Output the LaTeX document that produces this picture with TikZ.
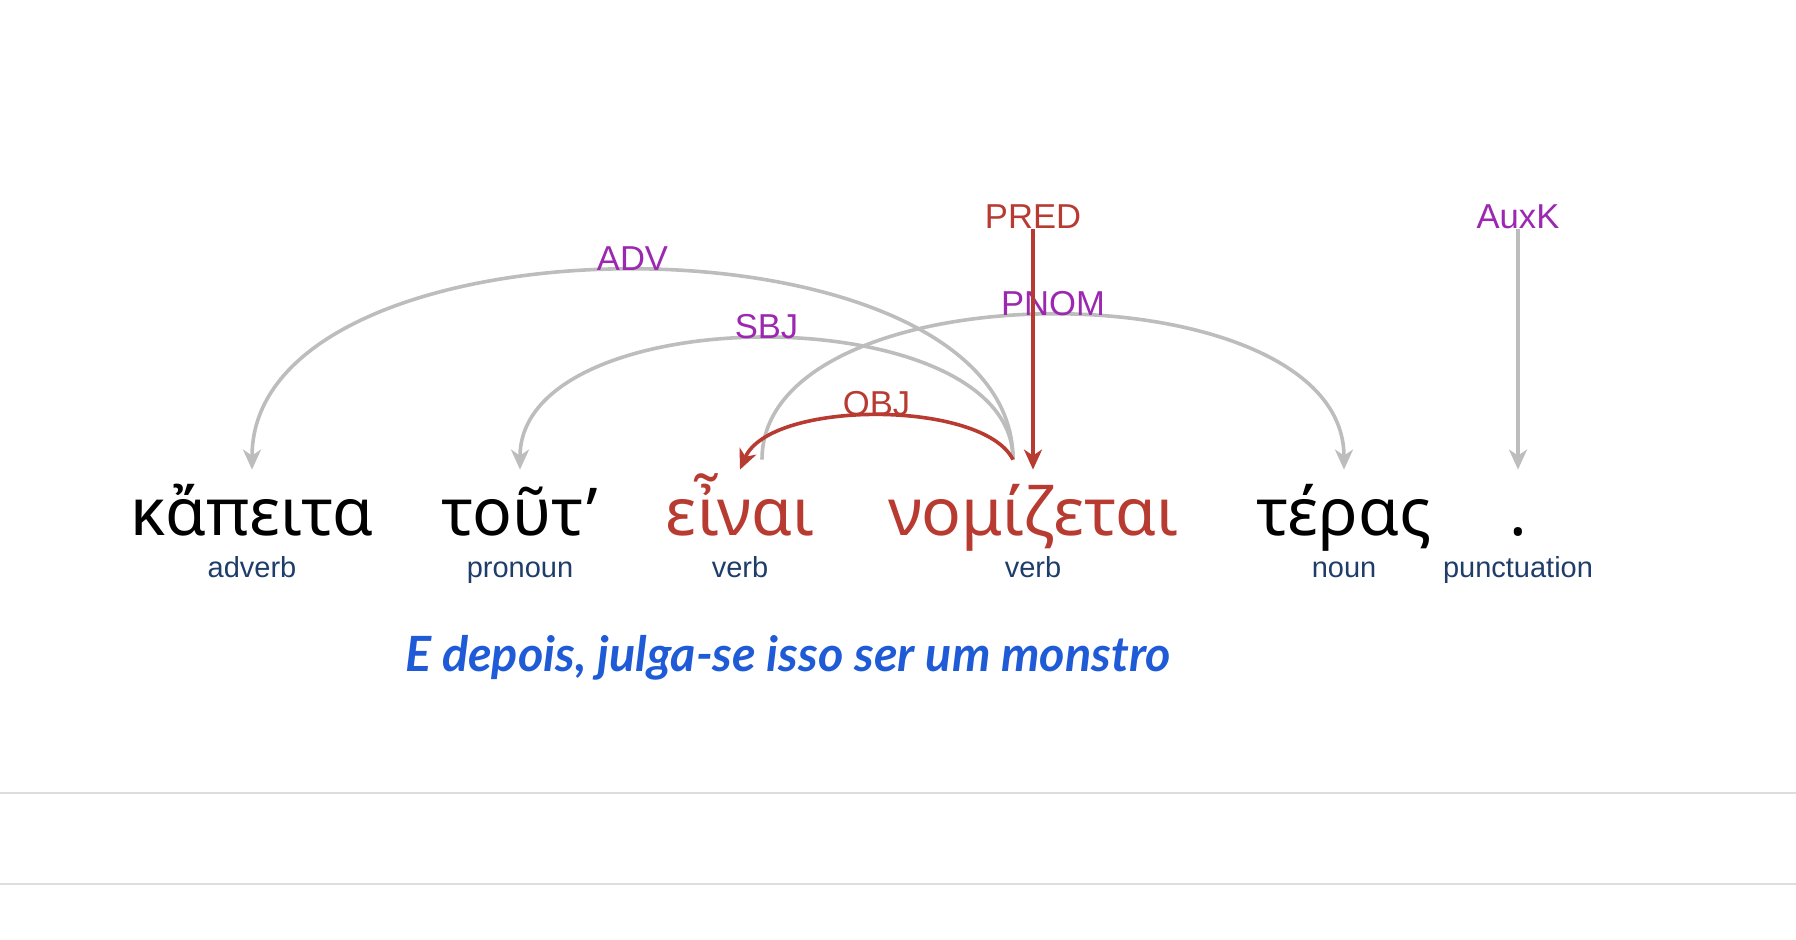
\documentclass[tikz,border=0pt]{standalone}
\usepackage{fontspec}
\setmainfont{Noto Sans}
\newfontfamily\greekfont{Noto Sans}
\newfontfamily\labelfont{Liberation Sans}
\newfontfamily\transfont{Lato}
\usetikzlibrary{arrows.meta}

\definecolor{arcgray}{HTML}{BDBDBD}
\definecolor{depred}{HTML}{B83B32}
\definecolor{relpurple}{HTML}{9C27B0}
\definecolor{posblue}{HTML}{1F3D6B}
\definecolor{transblue}{HTML}{1F5BD6}
\definecolor{rulegray}{HTML}{DDDDDD}

\begin{document}
\begin{tikzpicture}[x=0.5pt, y=-0.5pt,
  word/.style={font=\greekfont\fontsize{33}{36}\selectfont, anchor=base,
    inner sep=0pt, text height=33pt},
  hotword/.style={word, text=depred},
  tag/.style={font=\labelfont\fontsize{14.5}{17}\selectfont, text=posblue,
    anchor=base, inner sep=0pt},
  lbl/.style={font=\labelfont\fontsize{17.3}{20}\selectfont, text=relpurple,
    anchor=base, inner sep=0pt},
  hotlbl/.style={lbl, text=depred},
  arc/.style={draw=arcgray, line width=1.8pt,
    -{Stealth[length=10pt, width=9pt, inset=3pt]}},
  hotarc/.style={arc, draw=depred},
  rule/.style={draw=rulegray, line width=1pt}
]
  \useasboundingbox (0,0) rectangle (1796,940);

  % words of the sentence
  \node[word] (w1) at (252,536) {κἄπειτα};
  \node[word] (w2) at (520,536) {τοῦτ’};
  \node[hotword] (w3) at (740,536) {εἶναι};
  \node[hotword] (w4) at (1033,536) {νομίζεται};
  \node[word] (w5) at (1344,536) {τέρας};
  \node[word] (w6) at (1518,536) {.};

  % parts of speech
  \node[tag] (p1) at (252,578) {adverb};
  \node[tag] (p2) at (520,578) {pronoun};
  \node[tag] (p3) at (740,578) {verb};
  \node[tag] (p4) at (1033,578) {verb};
  \node[tag] (p5) at (1344,578) {noun};
  \node[tag] (p6) at (1518,578) {punctuation};

  % translation
  \node[font=\transfont\bfseries\itshape\fontsize{24.3}{28}\selectfont,
    text=transblue, anchor=base] (tr) at (788,672)
    {E depois, julga-se isso ser um monstro};

  % root labels
  \node[hotlbl] (pred) at (1033,229) {PRED};
  \node[lbl] (auxk) at (1518,229) {AuxK};

  % dependency arcs
  \draw[arc] ([xshift=-10pt,yshift=5pt]w4.north)
    .. controls +(0,-254) and +(0,-264) .. (w1.north)
    node[lbl, pos=0.5] {ADV};
  \draw[arc] ([xshift=-10pt,yshift=5pt]w4.north)
    .. controls +(0,-163) and +(0,-173) .. (w2.north)
    node[lbl, pos=0.5] {SBJ};
  \draw[arc] ([xshift=11pt,yshift=5pt]w3.north)
    .. controls +(0,-194) and +(0,-204) .. (w5.north)
    node[lbl, pos=0.5] {PNOM};
  \draw[arc] (auxk.base) -- (w6.north);
  \draw[hotarc] ([xshift=-10pt,yshift=5pt]w4.north)
    .. controls +(-30,-60) and +(30,-70) .. (w3.north)
    node[hotlbl, pos=0.5] {OBJ};
  \draw[hotarc] (pred.base) -- (w4.north);

  % separators
  \draw[rule] (0,793) -- (1796,793);
  \draw[rule] (0,884) -- (1796,884);
\end{tikzpicture}
\end{document}
